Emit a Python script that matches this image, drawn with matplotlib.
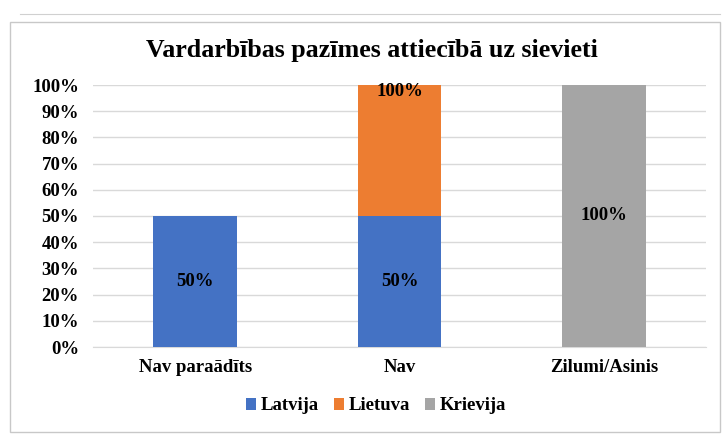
import matplotlib
matplotlib.use("Agg")
import matplotlib.pyplot as plt
from matplotlib.patches import Rectangle
import numpy as np

categories = ["Nav paraādīts", "Nav", "Zilumi/Asinis"]
latvija = [50, 50, 0]
lietuva = [0, 50, 0]
krievija = [0, 0, 100]
latvija_labels = ["50%", "50%", ""]
lietuva_labels = ["", "100%", ""]
krievija_labels = ["", "", "100%"]
yticks = [0, 10, 20, 30, 40, 50, 60, 70, 80, 90, 100]
title = "Vardarbības pazīmes attiecībā uz sievieti"

plt.rcParams['font.family'] = ['Liberation Serif', 'DejaVu Serif']
plt.rcParams['font.weight'] = 'bold'

fig = plt.figure(figsize=(7.25, 4.37), dpi=100)
fig.patch.set_facecolor('white')
# chart border
fig.add_artist(Rectangle((10/725, 5/437), 710/725, 410/437, transform=fig.transFigure,
                         fill=False, edgecolor='#c8c8c8', linewidth=1.0))
fig.add_artist(plt.Line2D([20/725, 720/725], [423/437, 423/437], transform=fig.transFigure,
                          color='#d0d0d0', linewidth=0.8))

ax = fig.add_axes([93/725, 90/437, 613/725, 262/437])
x = np.arange(len(categories))
w = 0.41
colors = ['#4472C4', '#ED7D31', '#A5A5A5']
b1 = ax.bar(x, latvija, w, color=colors[0], label='Latvija', zorder=3)
b2 = ax.bar(x, lietuva, w, bottom=latvija, color=colors[1], label='Lietuva', zorder=3)
bottom3 = np.array(latvija) + np.array(lietuva)
b3 = ax.bar(x, krievija, w, bottom=bottom3, color=colors[2], label='Krievija', zorder=3)

fs = 13.5
for i in range(len(categories)):
    if latvija_labels[i]:
        ax.text(x[i], latvija[i] / 2, latvija_labels[i], ha='center', va='center',
                fontsize=fs, fontweight='bold', zorder=4)
    if lietuva_labels[i]:
        ax.text(x[i], latvija[i] + lietuva[i] + 0.8, lietuva_labels[i], ha='center', va='top',
                fontsize=fs, fontweight='bold', zorder=4)
    if krievija_labels[i]:
        ax.text(x[i], bottom3[i] + krievija[i] / 2, krievija_labels[i], ha='center', va='center',
                fontsize=fs, fontweight='bold', zorder=4)

ax.set_xlim(-0.5, 2.5)
ax.set_ylim(0, 100)
ax.set_yticks(yticks)
ax.set_yticklabels([f"{t}%" for t in yticks], fontsize=fs, fontweight='bold')
ax.set_xticks(x)
ax.set_xticklabels(categories, fontsize=fs, fontweight='bold')
ax.tick_params(axis='both', length=0)
ax.tick_params(axis='y', pad=10)
ax.tick_params(axis='x', pad=9)
ax.yaxis.grid(True, color='#d9d9d9', linewidth=1, zorder=0)
for s in ['top', 'right', 'left']:
    ax.spines[s].set_visible(False)
ax.spines['bottom'].set_color('#d9d9d9')

fig.text(372/725, (437-50)/437, title, ha='center', va='center',
         fontsize=18.7, fontweight='bold')

leg = fig.legend(handles=[b1, b2, b3], labels=['Latvija', 'Lietuva', 'Krievija'],
                 loc='center', bbox_to_anchor=(376/725, (437-406)/437), ncol=3,
                 frameon=False, fontsize=fs, handlelength=0.55, handleheight=0.55,
                 handletextpad=0.25, columnspacing=0.8)
for t in leg.get_texts():
    t.set_fontweight('bold')

fig.savefig('out.png', dpi=100)
